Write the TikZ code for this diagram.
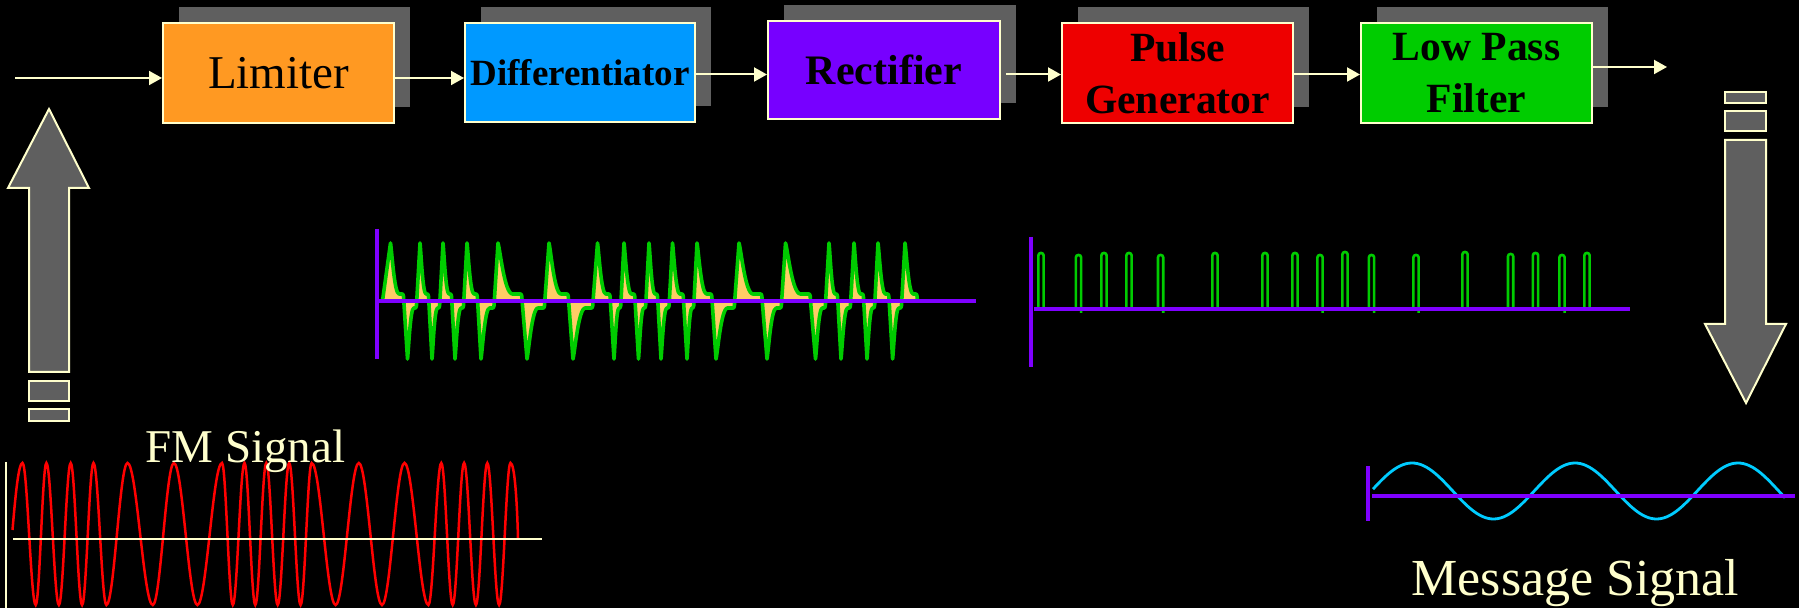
\documentclass[tikz,border=0pt]{standalone}
\usepackage{fontspec}
\setmainfont{Liberation Serif}
\usetikzlibrary{arrows.meta,calc,shadows}
\definecolor{cream}{HTML}{FFFFCC}
\definecolor{shgray}{HTML}{5F5F5F}
\definecolor{limc}{HTML}{FF9922}
\definecolor{difc}{HTML}{0099FF}
\definecolor{recc}{HTML}{7700FF}
\definecolor{pulc}{HTML}{EE0000}
\definecolor{lpfc}{HTML}{00CC00}
\definecolor{axisp}{HTML}{7F00FF}
\definecolor{wgreen}{HTML}{00CC00}
\definecolor{wfill}{HTML}{FFCC66}
\definecolor{fmred}{HTML}{FF0000}
\definecolor{msgc}{HTML}{00CCFF}
\begin{document}
\begin{tikzpicture}[x=0.5pt,y=-0.5pt,
  blk/.style={draw=cream, line width=1pt, inner sep=0pt, align=center, text=black,
    minimum width=115.5pt, minimum height=50pt,
    general shadow={shadow xshift=8pt, shadow yshift=8pt, fill=shgray}},
  boldlbl/.style={font=\fontsize{20.8}{26}\selectfont\bfseries},
  conn/.style={draw=cream, line width=1pt, -{Triangle[length=6.5pt,width=7pt]}},
  bigarrow/.style={fill=shgray, draw=cream, line width=1pt, line join=miter},
  axp/.style={draw=axisp, line width=1.6pt},
  axc/.style={draw=cream, line width=1.2pt},
  wave/.style={draw=wgreen, line width=1.8pt, line join=round, line cap=round},
  siglbl/.style={anchor=base, text=cream, inner sep=0pt}]
\useasboundingbox (0,0) rectangle (1799,608);
\fill[black] (0,0) rectangle (1799,608);

% blocks
\node[blk, fill=limc, font=\fontsize{23.5}{28}\selectfont] (lim) at (278.5,73) {Limiter};
\node[blk, fill=difc, minimum width=115pt, minimum height=49.5pt, font=\fontsize{18.5}{22}\selectfont\bfseries] (dif) at (580,72.5) {Differentiator};
\node[blk, fill=recc, minimum width=116pt, minimum height=49pt, font=\fontsize{21}{26}\selectfont\bfseries] (rec) at (884,70) {Rectifier};
\node[blk, fill=pulc, boldlbl] (pul) at (1177.5,73) {Pulse\\Generator};
\node[blk, fill=lpfc, boldlbl] (lpf) at (1476.5,73) {Low Pass\\Filter};

% connectors
\coordinate (in) at (15,78);
\draw[conn] (in) -- (in -| lim.west);
\coordinate (a0) at ($(lim.east)+(0,5)$);
\draw[conn] (a0) -- (a0 -| dif.west);
\coordinate (a1) at ($(dif.east)+(0,2)$);
\draw[conn] (a1) -- (a1 -| rec.west);
\coordinate (a2) at ($(rec.east)+(5,4.5)$);
\draw[conn] (a2) -- (a2 -| pul.west);
\coordinate (a3) at ($(pul.east)+(0,1.5)$);
\draw[conn] (a3) -- (a3 -| lpf.west);
\coordinate (a4) at ($(lpf.east)+(0,-6)$);
\coordinate (out) at (1667,67);
\draw[conn] (a4) -- (out);

% big arrows
\draw[bigarrow] (49,109) -- (89,188) -- (69,188) -- (69,372) -- (29,372) -- (29,188) -- (8,188) -- cycle;
\draw[bigarrow] (29,381) rectangle (69,401);
\draw[bigarrow] (29,409) rectangle (69,421);
\draw[bigarrow] (1725,92) rectangle (1766,103);
\draw[bigarrow] (1725,111) rectangle (1766,131);
\draw[bigarrow] (1725,140) -- (1766,140) -- (1766,324) -- (1786,324) -- (1746,403) -- (1705,324) -- (1725,324) -- cycle;

% differentiator output
\foreach \xp/\xa/\xb/\sg in {330.5/390.5/407.5/-1, 390.5/407.5/420/1, 407.5/420/432/-1, 420/432/443/1,
  432/443/455/-1, 443/455/467/1, 455/467/481/-1, 467/481/498/1, 481/498/527/-1, 498/527/549/1,
  527/549/573/-1, 549/573/597.5/1, 573/597.5/614/-1, 597.5/614/624/1, 614/624/638.5/-1,
  624/638.5/649/1, 638.5/649/661/-1, 649/661/672.5/1, 661/672.5/687/-1, 672.5/687/697/1,
  687/697/716/-1, 697/716/739/1, 716/739/767/-1, 739/767/785.5/1, 767/785.5/815.5/-1,
  785.5/815.5/829/1, 815.5/829/841/-1, 829/841/854/1, 841/854/867/-1, 854/867/878/1,
  867/878/892.6/-1, 878/892.6/905/1, 892.6/905/921/-1}{
  \pgfmathsetmacro\ra{\xa-2-0.1*(\xa-\xp)}
  \pgfmathsetmacro\dd{0.5*(\xb-\xa)}
  \pgfmathsetmacro\ee{\xb-3.5-0.1*(\xb-\xa)}
  \pgfmathsetmacro\pk{301+\sg*58}
  \pgfmathsetmacro\sh{301+\sg*7}
  \pgfmathsetmacro\ya{301+\sg*51}
  \fill[wfill]
    (\ra,301) -- (\xa,\pk) .. controls ({\xa+0.15*\dd},\ya) and ({\xa+0.45*\dd},\sh) .. ({\xa+\dd},\sh)
    -- (\ee,\sh) .. controls ({\ee+1.2},\sh) and ({\ee+1.5},{301+\sg*3}) .. ({\ee+1.5},301) -- cycle;
  \draw[wave]
    (\ra,301) -- (\xa,\pk) .. controls ({\xa+0.15*\dd},\ya) and ({\xa+0.45*\dd},\sh) .. ({\xa+\dd},\sh)
    -- (\ee,\sh) .. controls ({\ee+1.2},\sh) and ({\ee+1.5},{301+\sg*3}) .. ({\ee+1.5},301);
}
\draw[axp] (377,229) -- (377,359);
\draw[axp] (377,301) -- (976,301);

% pulse generator output
\foreach \x/\t/\tl in {1041/253/309, 1078.5/255/313, 1104/253/309, 1129/253/309, 1160.6/255/313,
  1215/253/309, 1265/253/309, 1295/253/309, 1320/255/313, 1345/252/309, 1371.5/255/313,
  1416/255/313, 1465/252/309, 1510.6/254/311, 1535.5/253/309, 1562/255/313, 1587/253/309}{
  \draw[wgreen, line width=1.3pt, rounded corners=1.2pt] ({\x-2.6},309) -- ({\x-2.6},\t) -- ({\x+2.6},\t) -- ({\x+2.6},\tl);
}
\draw[axp] (1031,237) -- (1031,367);
\draw[axp] (1034,309) -- (1630,309);

% FM signal
\draw[fmred, line width=1.25pt] (12.5,530) .. controls (15.5,495) and (18.5,463) .. (22.5,463)
  \foreach \px/\x/\y in {22.5/35.7/605, 35.7/46.4/463, 46.4/58.9/605, 58.9/70.7/463, 70.7/82.1/605,
    82.1/93.5/463, 93.5/106.4/605, 106.4/127.5/463, 127.5/152.8/605, 152.8/173.9/463,
    173.9/197.4/605, 197.4/222/463, 222/232.8/605, 232.8/244.5/463, 244.5/255.3/605,
    255.3/266.3/463, 266.3/277.7/605, 277.7/289.2/463, 289.2/300.6/605, 300.6/311.7/463,
    311.7/335.6/605, 335.6/358.8/463, 358.8/382/605, 382/404.5/463, 404.5/428.4/605,
    428.4/441.3/463, 441.3/452.7/605, 452.7/464.1/463, 464.1/475.9/605, 475.9/487.3/463,
    487.3/499.1/605, 499.1/510.5/463}{
    .. controls +({0.364*(\x-\px)},0) and +({-0.364*(\x-\px)},0) .. (\x,\y) }
  .. controls (514.5,463) and (517,500) .. (518,538);
\draw[axc] (6,462) -- (6,608);
\draw[axc] (13,539) -- (542,539);
\node[siglbl, font=\fontsize{23.5}{28}\selectfont] (fmlbl) at (245.5,463) {FM Signal};

% message signal
\draw[msgc, line width=1.4pt] plot[domain=1373:1785, samples=140] (\x,{491-28*sin(2.208589*(\x-1371.25))});
\draw[axp] (1368,466) -- (1368,521);
\draw[axp] (1372,496) -- (1795,496);
\node[siglbl, font=\fontsize{26}{31}\selectfont] (msglbl) at (1575.5,596) {Message Signal};
\end{tikzpicture}
\end{document}
